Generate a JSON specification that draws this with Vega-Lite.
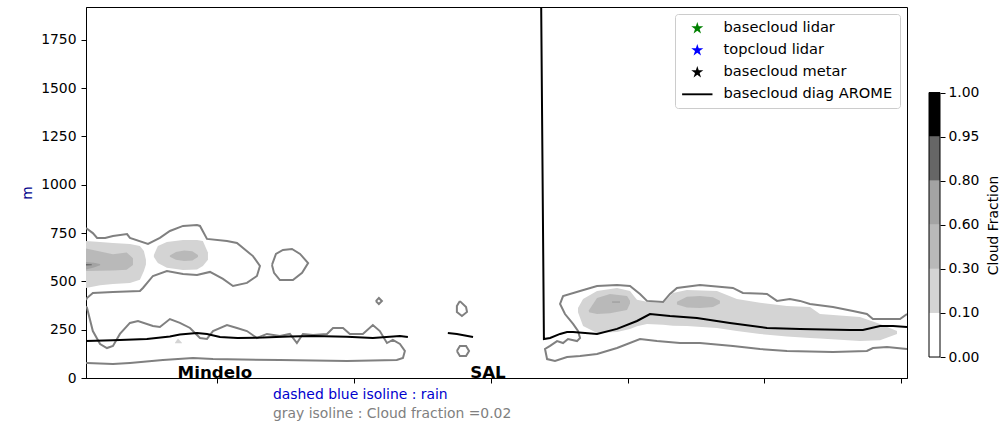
{
  "$schema": "https://vega.github.io/schema/vega-lite/v6.json",
  "autosize": {"type": "pad"},
  "padding": {"left": 20, "top": 6, "right": 1, "bottom": 4},
  "background": "white",
  "bounds": "flush",
  "spacing": 22,
  "config": {
    "font": "DejaVu Sans",
    "view": {"stroke": "black", "strokeWidth": 1},
    "axis": {"grid": false, "domainColor": "black", "tickColor": "black", "labelColor": "black", "labelFontSize": 13.9, "titleFontSize": 13.9, "titleFontWeight": "normal", "titleColor": "black", "tickSize": 5},
    "legend": {"orient": "top-right", "offset": 7, "padding": 7, "fillColor": "rgba(255,255,255,0.85)", "strokeColor": "#cccccc", "cornerRadius": 3, "labelFontSize": 14.6, "labelColor": "black", "labelLimit": 400, "symbolSize": 160, "symbolOffset": 8, "labelOffset": 19, "rowPadding": 7, "symbolStrokeWidth": 0}
  },
  "resolve": {"scale": {"color": "independent", "shape": "independent", "fill": "independent"}, "legend": {"color": "independent", "shape": "independent", "fill": "independent"}},
  "datasets": {
    "fills": [
      {"blob": "A1", "level": "0.10-0.30", "x": 0.43, "y": 709, "y2": 466},
      {"blob": "A1", "level": "0.10-0.30", "x": 1.46, "y": 704, "y2": 480},
      {"blob": "A1", "level": "0.10-0.30", "x": 2.40, "y": 699, "y2": 487},
      {"blob": "A1", "level": "0.10-0.30", "x": 3.64, "y": 693, "y2": 492},
      {"blob": "A1", "level": "0.10-0.30", "x": 4.37, "y": 683, "y2": 508},
      {"blob": "A1", "level": "0.10-0.30", "x": 4.66, "y": 657, "y2": 554},
      {"blob": "A1", "level": "0.10-0.30", "x": 4.81, "y": 612, "y2": 588},
      {"blob": "T1", "level": "0.10-0.30", "x": 6.93, "y": 182, "y2": 180},
      {"blob": "T1", "level": "0.10-0.30", "x": 7.15, "y": 205, "y2": 180},
      {"blob": "T1", "level": "0.10-0.30", "x": 7.44, "y": 182, "y2": 180},
      {"blob": "B1", "level": "0.10-0.30", "x": 5.39, "y": 636, "y2": 626},
      {"blob": "B1", "level": "0.10-0.30", "x": 5.68, "y": 683, "y2": 595},
      {"blob": "B1", "level": "0.10-0.30", "x": 6.34, "y": 704, "y2": 570},
      {"blob": "B1", "level": "0.10-0.30", "x": 7.52, "y": 714, "y2": 559},
      {"blob": "B1", "level": "0.10-0.30", "x": 8.54, "y": 714, "y2": 562},
      {"blob": "B1", "level": "0.10-0.30", "x": 8.97, "y": 709, "y2": 580},
      {"blob": "B1", "level": "0.10-0.30", "x": 9.34, "y": 650, "y2": 612},
      {"blob": "C1", "level": "0.10-0.30", "x": 36.38, "y": 362, "y2": 340},
      {"blob": "C1", "level": "0.10-0.30", "x": 36.75, "y": 409, "y2": 269},
      {"blob": "C1", "level": "0.10-0.30", "x": 37.77, "y": 450, "y2": 233},
      {"blob": "C1", "level": "0.10-0.30", "x": 39.23, "y": 466, "y2": 238},
      {"blob": "C1", "level": "0.10-0.30", "x": 40.18, "y": 450, "y2": 254},
      {"blob": "C1", "level": "0.10-0.30", "x": 40.69, "y": 405, "y2": 268},
      {"blob": "C1", "level": "0.10-0.30", "x": 41.42, "y": 395, "y2": 280},
      {"blob": "C1", "level": "0.10-0.30", "x": 42.59, "y": 390, "y2": 275},
      {"blob": "C1", "level": "0.10-0.30", "x": 43.32, "y": 440, "y2": 270},
      {"blob": "C1", "level": "0.10-0.30", "x": 44.34, "y": 455, "y2": 269},
      {"blob": "C1", "level": "0.10-0.30", "x": 46.53, "y": 450, "y2": 259},
      {"blob": "C1", "level": "0.10-0.30", "x": 47.99, "y": 409, "y2": 243},
      {"blob": "C1", "level": "0.10-0.30", "x": 49.68, "y": 390, "y2": 228},
      {"blob": "C1", "level": "0.10-0.30", "x": 51.65, "y": 373, "y2": 215},
      {"blob": "C1", "level": "0.10-0.30", "x": 53.33, "y": 367, "y2": 207},
      {"blob": "C1", "level": "0.10-0.30", "x": 54.06, "y": 331, "y2": 205},
      {"blob": "C1", "level": "0.10-0.30", "x": 56.98, "y": 316, "y2": 191},
      {"blob": "C1", "level": "0.10-0.30", "x": 58.45, "y": 280, "y2": 196},
      {"blob": "C1", "level": "0.10-0.30", "x": 59.69, "y": 243, "y2": 228},
      {"blob": "A2", "level": "0.30-0.60", "x": 0.43, "y": 670, "y2": 554},
      {"blob": "A2", "level": "0.30-0.60", "x": 2.40, "y": 640, "y2": 556},
      {"blob": "A2", "level": "0.30-0.60", "x": 3.40, "y": 650, "y2": 560},
      {"blob": "A2", "level": "0.30-0.60", "x": 3.86, "y": 620, "y2": 585},
      {"blob": "B2", "level": "0.30-0.60", "x": 6.56, "y": 634, "y2": 628},
      {"blob": "B2", "level": "0.30-0.60", "x": 7.00, "y": 652, "y2": 612},
      {"blob": "B2", "level": "0.30-0.60", "x": 7.60, "y": 660, "y2": 605},
      {"blob": "B2", "level": "0.30-0.60", "x": 8.20, "y": 656, "y2": 608},
      {"blob": "B2", "level": "0.30-0.60", "x": 8.61, "y": 636, "y2": 626},
      {"blob": "C2", "level": "0.30-0.60", "x": 37.18, "y": 350, "y2": 340},
      {"blob": "C2", "level": "0.30-0.60", "x": 37.77, "y": 414, "y2": 331},
      {"blob": "C2", "level": "0.30-0.60", "x": 38.72, "y": 435, "y2": 335},
      {"blob": "C2", "level": "0.30-0.60", "x": 39.96, "y": 424, "y2": 352},
      {"blob": "C2", "level": "0.30-0.60", "x": 40.18, "y": 400, "y2": 385},
      {"blob": "C2b", "level": "0.30-0.60", "x": 43.61, "y": 395, "y2": 380},
      {"blob": "C2b", "level": "0.30-0.60", "x": 44.34, "y": 420, "y2": 365},
      {"blob": "C2b", "level": "0.30-0.60", "x": 45.29, "y": 424, "y2": 362},
      {"blob": "C2b", "level": "0.30-0.60", "x": 46.24, "y": 418, "y2": 368},
      {"blob": "C2b", "level": "0.30-0.60", "x": 46.75, "y": 400, "y2": 385},
      {"blob": "A3", "level": "0.60-0.80", "x": 0.43, "y": 600, "y2": 562},
      {"blob": "A3", "level": "0.60-0.80", "x": 1.00, "y": 597, "y2": 572},
      {"blob": "A3", "level": "0.60-0.80", "x": 1.46, "y": 590, "y2": 583},
      {"blob": "C3", "level": "0.60-0.80", "x": 38.87, "y": 397, "y2": 389},
      {"blob": "C3", "level": "0.60-0.80", "x": 39.45, "y": 397, "y2": 389},
      {"blob": "A4", "level": "0.80-0.95", "x": 0.43, "y": 590, "y2": 582},
      {"blob": "A4", "level": "0.80-0.95", "x": 0.85, "y": 589, "y2": 584}
    ],
    "contours": [
      {"c": "L1", "x": 0.43, "y": 776}, {"c": "L1", "x": 0.93, "y": 750}, {"c": "L1", "x": 1.24, "y": 725}, {"c": "L1", "x": 1.83, "y": 725},
      {"c": "L1", "x": 2.40, "y": 735}, {"c": "L1", "x": 3.43, "y": 745}, {"c": "L1", "x": 3.64, "y": 725}, {"c": "L1", "x": 4.96, "y": 694},
      {"c": "L1", "x": 5.83, "y": 725}, {"c": "L1", "x": 6.56, "y": 761}, {"c": "L1", "x": 7.52, "y": 787}, {"c": "L1", "x": 8.54, "y": 792},
      {"c": "L1", "x": 8.76, "y": 787}, {"c": "L1", "x": 9.27, "y": 720}, {"c": "L1", "x": 10.73, "y": 709}, {"c": "L1", "x": 11.46, "y": 699},
      {"c": "L1", "x": 12.63, "y": 631}, {"c": "L1", "x": 13.14, "y": 580}, {"c": "L1", "x": 12.92, "y": 528}, {"c": "L1", "x": 12.19, "y": 492},
      {"c": "L1", "x": 11.17, "y": 476}, {"c": "L1", "x": 10.44, "y": 513}, {"c": "L1", "x": 9.49, "y": 549}, {"c": "L1", "x": 8.54, "y": 533},
      {"c": "L1", "x": 7.52, "y": 538}, {"c": "L1", "x": 6.34, "y": 554}, {"c": "L1", "x": 5.32, "y": 528}, {"c": "L1", "x": 4.59, "y": 466},
      {"c": "L1", "x": 4.37, "y": 450}, {"c": "L1", "x": 2.40, "y": 445}, {"c": "L1", "x": 0.93, "y": 440}, {"c": "L1", "x": 0.50, "y": 414},
      {"c": "L1", "x": 0.43, "y": 404},
      {"c": "L2", "x": 14.02, "y": 585}, {"c": "L2", "x": 14.31, "y": 642}, {"c": "L2", "x": 14.82, "y": 663}, {"c": "L2", "x": 15.48, "y": 668},
      {"c": "L2", "x": 16.07, "y": 642}, {"c": "L2", "x": 16.66, "y": 595}, {"c": "L2", "x": 16.22, "y": 544}, {"c": "L2", "x": 15.55, "y": 507},
      {"c": "L2", "x": 14.60, "y": 507}, {"c": "L2", "x": 14.17, "y": 544}, {"c": "L2", "x": 14.02, "y": 585},
      {"c": "L3", "x": 21.61, "y": 398}, {"c": "L3", "x": 21.83, "y": 414}, {"c": "L3", "x": 22.05, "y": 398}, {"c": "L3", "x": 21.83, "y": 383}, {"c": "L3", "x": 21.61, "y": 398},
      {"c": "L4", "x": 0.43, "y": 370}, {"c": "L4", "x": 0.50, "y": 364}, {"c": "L4", "x": 0.93, "y": 243}, {"c": "L4", "x": 1.46, "y": 176},
      {"c": "L4", "x": 1.96, "y": 155}, {"c": "L4", "x": 2.40, "y": 166}, {"c": "L4", "x": 2.91, "y": 228}, {"c": "L4", "x": 3.64, "y": 285},
      {"c": "L4", "x": 4.23, "y": 295}, {"c": "L4", "x": 5.32, "y": 269}, {"c": "L4", "x": 5.83, "y": 264}, {"c": "L4", "x": 6.56, "y": 305},
      {"c": "L4", "x": 7.29, "y": 285}, {"c": "L4", "x": 8.03, "y": 259}, {"c": "L4", "x": 8.76, "y": 207}, {"c": "L4", "x": 9.27, "y": 202},
      {"c": "L4", "x": 9.71, "y": 243}, {"c": "L4", "x": 10.73, "y": 274}, {"c": "L4", "x": 11.46, "y": 259}, {"c": "L4", "x": 12.19, "y": 243},
      {"c": "L4", "x": 12.92, "y": 207}, {"c": "L4", "x": 13.65, "y": 228}, {"c": "L4", "x": 14.60, "y": 217}, {"c": "L4", "x": 15.33, "y": 228},
      {"c": "L4", "x": 15.84, "y": 181}, {"c": "L4", "x": 16.28, "y": 228}, {"c": "L4", "x": 17.02, "y": 223}, {"c": "L4", "x": 18.04, "y": 228},
      {"c": "L4", "x": 18.48, "y": 259}, {"c": "L4", "x": 19.21, "y": 259}, {"c": "L4", "x": 19.71, "y": 228}, {"c": "L4", "x": 20.66, "y": 228},
      {"c": "L4", "x": 21.39, "y": 274}, {"c": "L4", "x": 21.90, "y": 243}, {"c": "L4", "x": 22.42, "y": 181}, {"c": "L4", "x": 22.85, "y": 197},
      {"c": "L4", "x": 23.37, "y": 176}, {"c": "L4", "x": 23.73, "y": 140}, {"c": "L4", "x": 23.59, "y": 104}, {"c": "L4", "x": 23.14, "y": 93},
      {"c": "L4", "x": 19.50, "y": 88}, {"c": "L4", "x": 14.60, "y": 93}, {"c": "L4", "x": 9.71, "y": 98}, {"c": "L4", "x": 8.25, "y": 104},
      {"c": "L4", "x": 6.05, "y": 93}, {"c": "L4", "x": 3.64, "y": 78}, {"c": "L4", "x": 2.40, "y": 72}, {"c": "L4", "x": 0.50, "y": 78},
      {"c": "L4", "x": 0.43, "y": 78},
      {"c": "L5", "x": 27.75, "y": 398}, {"c": "L5", "x": 28.20, "y": 367}, {"c": "L5", "x": 28.27, "y": 342}, {"c": "L5", "x": 27.90, "y": 321},
      {"c": "L5", "x": 27.53, "y": 342}, {"c": "L5", "x": 27.53, "y": 373}, {"c": "L5", "x": 27.75, "y": 398},
      {"c": "L6", "x": 27.53, "y": 140}, {"c": "L6", "x": 27.75, "y": 166}, {"c": "L6", "x": 28.20, "y": 166}, {"c": "L6", "x": 28.42, "y": 140},
      {"c": "L6", "x": 28.20, "y": 114}, {"c": "L6", "x": 27.75, "y": 114}, {"c": "L6", "x": 27.53, "y": 140},
      {"c": "L7", "x": 60.42, "y": 331}, {"c": "L7", "x": 59.91, "y": 305}, {"c": "L7", "x": 57.93, "y": 305}, {"c": "L7", "x": 57.49, "y": 331},
      {"c": "L7", "x": 56.47, "y": 347}, {"c": "L7", "x": 55.01, "y": 367}, {"c": "L7", "x": 53.33, "y": 383}, {"c": "L7", "x": 52.60, "y": 399},
      {"c": "L7", "x": 51.86, "y": 409}, {"c": "L7", "x": 50.92, "y": 399}, {"c": "L7", "x": 50.19, "y": 435}, {"c": "L7", "x": 48.43, "y": 440},
      {"c": "L7", "x": 47.70, "y": 466}, {"c": "L7", "x": 45.29, "y": 481}, {"c": "L7", "x": 43.61, "y": 466}, {"c": "L7", "x": 43.10, "y": 435},
      {"c": "L7", "x": 42.59, "y": 393}, {"c": "L7", "x": 41.42, "y": 399}, {"c": "L7", "x": 40.91, "y": 435}, {"c": "L7", "x": 40.18, "y": 476},
      {"c": "L7", "x": 39.23, "y": 481}, {"c": "L7", "x": 37.77, "y": 476}, {"c": "L7", "x": 36.53, "y": 450}, {"c": "L7", "x": 35.29, "y": 424},
      {"c": "L7", "x": 35.21, "y": 409}, {"c": "L7", "x": 35.07, "y": 383}, {"c": "L7", "x": 35.43, "y": 331}, {"c": "L7", "x": 36.02, "y": 280},
      {"c": "L7", "x": 36.38, "y": 243}, {"c": "L7", "x": 36.53, "y": 207}, {"c": "L7", "x": 36.31, "y": 191}, {"c": "L7", "x": 35.65, "y": 202},
      {"c": "L7", "x": 35.29, "y": 181}, {"c": "L7", "x": 34.85, "y": 191}, {"c": "L7", "x": 34.34, "y": 166}, {"c": "L7", "x": 33.97, "y": 150},
      {"c": "L7", "x": 34.12, "y": 98}, {"c": "L7", "x": 34.70, "y": 88}, {"c": "L7", "x": 35.58, "y": 109}, {"c": "L7", "x": 36.53, "y": 114},
      {"c": "L7", "x": 37.77, "y": 124}, {"c": "L7", "x": 39.23, "y": 155}, {"c": "L7", "x": 40.91, "y": 202}, {"c": "L7", "x": 42.15, "y": 191},
      {"c": "L7", "x": 43.83, "y": 181}, {"c": "L7", "x": 45.29, "y": 181}, {"c": "L7", "x": 47.70, "y": 166}, {"c": "L7", "x": 49.68, "y": 150},
      {"c": "L7", "x": 51.65, "y": 140}, {"c": "L7", "x": 55.01, "y": 135}, {"c": "L7", "x": 57.49, "y": 140}, {"c": "L7", "x": 57.93, "y": 155},
      {"c": "L7", "x": 58.96, "y": 160}, {"c": "L7", "x": 60.42, "y": 150}
    ],
    "arome": [
      {"seg": "a", "x": 0.43, "y": 191}, {"seg": "a", "x": 2.40, "y": 196}, {"seg": "a", "x": 4.88, "y": 202}, {"seg": "a", "x": 6.56, "y": 215},
      {"seg": "a", "x": 7.29, "y": 225}, {"seg": "a", "x": 8.54, "y": 233}, {"seg": "a", "x": 9.27, "y": 228}, {"seg": "a", "x": 10.22, "y": 212},
      {"seg": "a", "x": 11.50, "y": 207}, {"seg": "a", "x": 13.36, "y": 209}, {"seg": "a", "x": 15.30, "y": 215}, {"seg": "a", "x": 17.02, "y": 217},
      {"seg": "a", "x": 19.50, "y": 214}, {"seg": "a", "x": 21.39, "y": 207}, {"seg": "a", "x": 23.37, "y": 217}, {"seg": "a", "x": 23.95, "y": 212},
      {"seg": "b", "x": 26.87, "y": 233}, {"seg": "b", "x": 27.53, "y": 228}, {"seg": "b", "x": 28.71, "y": 212},
      {"seg": "c", "x": 33.60, "y": 2700}, {"seg": "c", "x": 33.89, "y": 202}, {"seg": "c", "x": 34.34, "y": 207}, {"seg": "c", "x": 35.07, "y": 228},
      {"seg": "c", "x": 35.58, "y": 238}, {"seg": "c", "x": 36.02, "y": 238}, {"seg": "c", "x": 37.77, "y": 228}, {"seg": "c", "x": 39.23, "y": 254},
      {"seg": "c", "x": 40.69, "y": 295}, {"seg": "c", "x": 41.64, "y": 331}, {"seg": "c", "x": 43.10, "y": 321}, {"seg": "c", "x": 45.07, "y": 311},
      {"seg": "c", "x": 47.48, "y": 285}, {"seg": "c", "x": 50.19, "y": 259}, {"seg": "c", "x": 52.60, "y": 254}, {"seg": "c", "x": 56.25, "y": 248},
      {"seg": "c", "x": 57.20, "y": 248}, {"seg": "c", "x": 58.45, "y": 269}, {"seg": "c", "x": 59.40, "y": 269}, {"seg": "c", "x": 60.42, "y": 264}
    ],
    "series": [
      {"series": "basecloud lidar"}, {"series": "topcloud lidar"}, {"series": "basecloud metar"}, {"series": "basecloud diag AROME"}
    ],
    "stations": [
      {"name": "Mindelo", "x": 9.85, "y": 0},
      {"name": "SAL", "x": 29.8, "y": 0}
    ],
    "colorbar": [
      {"level": "0.00-0.10", "lo": 0, "hi": 1},
      {"level": "0.10-0.30", "lo": 1, "hi": 2},
      {"level": "0.30-0.60", "lo": 2, "hi": 3},
      {"level": "0.60-0.80", "lo": 3, "hi": 4},
      {"level": "0.80-0.95", "lo": 4, "hi": 5},
      {"level": "0.95-1.00", "lo": 5, "hi": 6}
    ]
  },
  "hconcat": [
    {
      "width": 821,
      "height": 371,
      "title": {
        "text": "dashed blue isoline : rain",
        "subtitle": "gray isoline : Cloud fraction =0.02",
        "orient": "bottom", "anchor": "start", "frame": "group", "dx": 187, "offset": 3,
        "font": "DejaVu Sans", "fontSize": 13.9, "fontWeight": "normal", "color": "#0000cd",
        "subtitleFont": "DejaVu Sans", "subtitleFontSize": 13.9, "subtitleColor": "#808080", "subtitlePadding": 5
      },
      "encoding": {
        "x": {"field": "x", "type": "quantitative", "scale": {"domain": [0.43, 60.42], "nice": false, "zero": false},
              "axis": {"values": [10, 20, 30, 40, 50, 60], "labels": false, "title": null}},
        "y": {"field": "y", "type": "quantitative", "scale": {"domain": [0, 1920], "nice": false, "zero": false},
              "axis": {"values": [0, 250, 500, 750, 1000, 1250, 1500, 1750], "format": "d", "title": "m", "titleColor": "darkblue", "labelPadding": 5, "titlePadding": 6}}
      },
      "layer": [
        {
          "data": {"name": "fills"},
          "mark": {"type": "area", "clip": true},
          "encoding": {
            "y2": {"field": "y2"},
            "detail": {"field": "blob"},
            "fill": {"field": "level", "type": "nominal", "legend": null,
                     "scale": {"domain": ["0.00-0.10", "0.10-0.30", "0.30-0.60", "0.60-0.80", "0.80-0.95", "0.95-1.00"],
                               "range": ["#ffffff", "#d4d4d4", "#b9b9b9", "#a3a3a3", "#666666", "#000000"]}}
          }
        },
        {
          "data": {"name": "contours"},
          "mark": {"type": "line", "color": "#808080", "strokeWidth": 2, "clip": true},
          "encoding": {"detail": {"field": "c"}, "order": {"value": null}}
        },
        {
          "data": {"name": "arome"},
          "mark": {"type": "line", "color": "black", "strokeWidth": 2, "clip": true},
          "encoding": {"detail": {"field": "seg"}}
        },
        {
          "data": {"name": "stations"},
          "mark": {"type": "text", "fontWeight": "bold", "fontSize": 16.7, "color": "black", "align": "center", "baseline": "alphabetic"},
          "encoding": {"text": {"field": "name"}}
        },
        {
          "data": {"name": "series"},
          "mark": {"type": "point", "filled": true, "opacity": 1},
          "encoding": {
            "color": {"field": "series", "type": "nominal", "legend": {"title": null},
                      "scale": {"domain": ["basecloud lidar", "topcloud lidar", "basecloud metar", "basecloud diag AROME"],
                                "range": ["#008000", "#0000ff", "#000000", "#000000"]}},
            "shape": {"field": "series", "type": "nominal", "legend": {"title": null},
                      "scale": {"domain": ["basecloud lidar", "topcloud lidar", "basecloud metar", "basecloud diag AROME"],
                                "range": [
                                  "M0,-1L0.2245,-0.309L0.951,-0.309L0.363,0.118L0.588,0.809L0,0.382L-0.588,0.809L-0.363,0.118L-0.951,-0.309L-0.2245,-0.309Z",
                                  "M0,-1L0.2245,-0.309L0.951,-0.309L0.363,0.118L0.588,0.809L0,0.382L-0.588,0.809L-0.363,0.118L-0.951,-0.309L-0.2245,-0.309Z",
                                  "M0,-1L0.2245,-0.309L0.951,-0.309L0.363,0.118L0.588,0.809L0,0.382L-0.588,0.809L-0.363,0.118L-0.951,-0.309L-0.2245,-0.309Z",
                                  "M-2.4,-0.15L2.4,-0.15L2.4,0.15L-2.4,0.15Z"
                                ]}}
          }
        }
      ]
    },
    {
      "width": 11,
      "height": 371,
      "view": {"stroke": null},
      "data": {"name": "colorbar"},
      "encoding": {
        "y": {"field": "lo", "type": "quantitative", "scale": {"domain": [-0.476, 7.94], "nice": false, "zero": false},
              "axis": {"orient": "right", "values": [0, 1, 2, 3, 4, 5, 6], "domain": false, "labelPadding": 3,
                       "labelExpr": "['0.00','0.10','0.30','0.60','0.80','0.95','1.00'][datum.value]",
                       "title": "Cloud Fraction", "titleAngle": 270, "titleX": 53, "titleY": 218, "titleAlign": "center", "titleBaseline": "middle"}}
      },
      "layer": [
        {
          "mark": {"type": "rect"},
          "encoding": {
            "y2": {"field": "hi"},
            "fill": {"field": "level", "type": "nominal", "legend": null,
                     "scale": {"domain": ["0.00-0.10", "0.10-0.30", "0.30-0.60", "0.60-0.80", "0.80-0.95", "0.95-1.00"],
                               "range": ["#ffffff", "#d4d4d4", "#b9b9b9", "#a3a3a3", "#666666", "#000000"]}}
          }
        },
        {
          "mark": {"type": "rect", "fill": null, "fillOpacity": 0, "stroke": "black", "strokeWidth": 1},
          "encoding": {
            "y": {"aggregate": "min", "field": "lo", "type": "quantitative"},
            "y2": {"aggregate": "max", "field": "hi"}
          }
        }
      ]
    }
  ]
}
